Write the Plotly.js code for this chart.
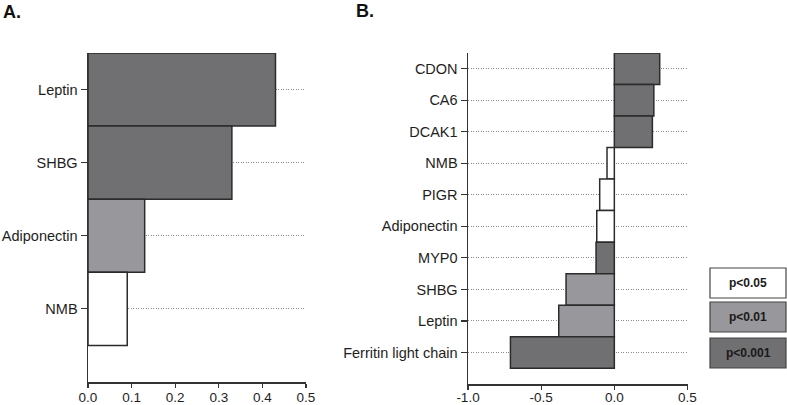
<!DOCTYPE html>
<html>
<head>
<meta charset="utf-8">
<script src="https://cdn.plot.ly/plotly-3.0.1.min.js"></script>
<style>
  html, body { margin: 0; padding: 0; background: #fff; }
  #chart { width: 787px; height: 405px; }
</style>
</head>
<body>
<div id="chart"></div>
<script>
// Panel A: proteins and coefficients, listed top to bottom
const proteinsA = ['Leptin', 'SHBG', 'Adiponectin', 'NMB'];
const valuesA = [0.43, 0.33, 0.13, 0.09];
const levelsA = ['p<0.001', 'p<0.001', 'p<0.01', 'p<0.05'];

// Panel B: proteins and coefficients, listed top to bottom
const proteinsB = ['CDON', 'CA6', 'DCAK1', 'NMB', 'PIGR', 'Adiponectin', 'MYP0', 'SHBG', 'Leptin', 'Ferritin light chain'];
const valuesB = [0.31, 0.27, 0.26, -0.05, -0.10, -0.12, -0.125, -0.33, -0.38, -0.71];
const levelsB = ['p<0.001', 'p<0.001', 'p<0.001', 'p<0.05', 'p<0.05', 'p<0.05', 'p<0.001', 'p<0.01', 'p<0.01', 'p<0.001'];

// x-axis ticks
const ticksA = [0, 0.1, 0.2, 0.3, 0.4, 0.5];
const tickTextA = ['0.0', '0.1', '0.2', '0.3', '0.4', '0.5'];
const ticksB = [-1, -0.5, 0, 0.5];
const tickTextB = ['-1.0', '-0.5', '0.0', '0.5'];

// significance levels shown in the key
const levels = ['p<0.05', 'p<0.01', 'p<0.001'];
const levelColors = { 'p<0.05': '#ffffff', 'p<0.01': '#98979b', 'p<0.001': '#706f71' };

const W = 787, H = 405;
const FONT = 'Liberation Sans, Arial, Helvetica, sans-serif';
const EDGE = '#2b2b2b';

function barTrace(names, vals, lv, xa, ya) {
  return {
    type: 'bar',
    orientation: 'h',
    y: names,
    x: vals,
    width: 1,
    xaxis: xa,
    yaxis: ya,
    marker: {
      color: lv.map(l => levelColors[l]),
      line: { color: EDGE, width: 1.5 }
    },
    hoverinfo: 'x+y',
    showlegend: false
  };
}

const px = v => v / W;
const py = v => 1 - v / H;

const yCommon = {
  type: 'category',
  showline: true, linecolor: '#333', linewidth: 1.5,
  ticks: 'outside', ticklen: 6, tickwidth: 1.2, tickcolor: '#333',
  showgrid: true, gridcolor: '#8a8a8a', gridwidth: 1, griddash: '1px,1.5px',
  zeroline: false,
  tickfont: { family: FONT, size: 14.5, color: '#1e1e1e' }
};
const xCommon = {
  showline: true, linecolor: '#333', linewidth: 1.5,
  ticks: 'outside', ticklen: 4, tickwidth: 1.2, tickcolor: '#333',
  showgrid: false, zeroline: false,
  tickmode: 'array',
  tickfont: { family: FONT, size: 13.5, color: '#1e1e1e' }
};

const layout = {
  width: W, height: H,
  margin: { l: 0, r: 0, t: 0, b: 0 },
  paper_bgcolor: '#fff', plot_bgcolor: '#fff',
  bargap: 0,
  xaxis: Object.assign({}, xCommon, {
    domain: [px(88), px(306)], range: [0, 0.5], anchor: 'y',
    tickvals: ticksA, ticktext: tickTextA, ticklabelstandoff: -2
  }),
  yaxis: Object.assign({}, yCommon, {
    domain: [py(382), py(53)], anchor: 'x',
    categoryorder: 'array', categoryarray: proteinsA.slice().reverse(),
    range: [-1, proteinsA.length - 0.5]
  }),
  xaxis2: Object.assign({}, xCommon, {
    domain: [px(468), px(687.5)], range: [-1, 0.5], anchor: 'y2',
    tickvals: ticksB, ticktext: tickTextB, ticklabelstandoff: -4
  }),
  yaxis2: Object.assign({}, yCommon, {
    domain: [py(384), py(53)], anchor: 'x2',
    categoryorder: 'array', categoryarray: proteinsB.slice().reverse(),
    range: [-1, proteinsB.length - 0.5]
  }),
  shapes: [],
  annotations: [
    { text: '<b>A.</b>', xref: 'paper', yref: 'paper', x: px(1), y: py(0), xanchor: 'left', yanchor: 'top',
      showarrow: false, font: { family: FONT, size: 18, color: '#111' } },
    { text: '<b>B.</b>', xref: 'paper', yref: 'paper', x: px(354), y: py(-1), xanchor: 'left', yanchor: 'top',
      showarrow: false, font: { family: FONT, size: 18, color: '#111' } }
  ]
};

// significance key: three stacked boxes at the right
const keyTop = [268, 302, 338];
const keyH = 30;
levels.forEach((lv, i) => {
  layout.shapes.push({
    type: 'rect', xref: 'paper', yref: 'paper',
    x0: px(710), x1: px(786), y0: py(keyTop[i] + keyH), y1: py(keyTop[i]),
    fillcolor: levelColors[lv], line: { color: '#444', width: 1.2 }
  });
  layout.annotations.push({
    text: '<b>' + lv.replace('<', '&lt;') + '</b>', xref: 'paper', yref: 'paper',
    x: px(748), y: py(keyTop[i] + keyH / 2), xanchor: 'center', yanchor: 'middle',
    showarrow: false, font: { family: FONT, size: 12, color: '#1a1a1a' }
  });
});

Plotly.newPlot('chart', [
  barTrace(proteinsA, valuesA, levelsA, 'x', 'y'),
  barTrace(proteinsB, valuesB, levelsB, 'x2', 'y2')
], layout, { displayModeBar: false, staticPlot: true });
</script>
</body>
</html>
